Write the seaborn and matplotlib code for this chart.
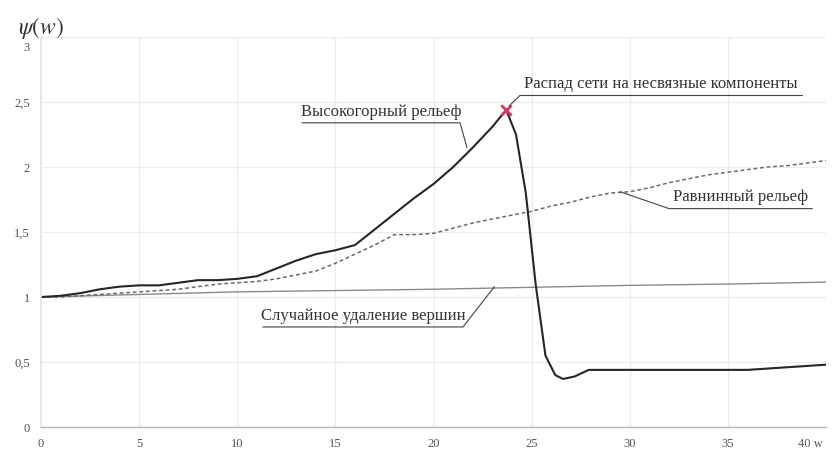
import matplotlib
matplotlib.use("Agg")
import matplotlib.pyplot as plt
import matplotlib.transforms as mtransforms
import numpy as np
import pandas as pd
import seaborn as sns

# --- data -------------------------------------------------------------
# high-mountain relief (solid)
w_high = [0, 1, 2, 3, 4, 5, 6, 7, 8, 9, 10, 11, 12, 13, 14, 15, 16, 17, 18,
          19, 20, 21, 22, 23, 23.7, 24.2, 24.7, 25.2, 25.7, 26.2, 26.6, 27.2,
          27.9, 29, 30, 31, 32, 33, 34, 35, 36, 37, 38, 39, 40]
psi_high = [1.00, 1.01, 1.03, 1.06, 1.08, 1.09, 1.09, 1.11, 1.13, 1.13, 1.14,
            1.16, 1.22, 1.28, 1.33, 1.36, 1.40, 1.52, 1.64, 1.76, 1.87, 2.00,
            2.15, 2.31, 2.44, 2.25, 1.80, 1.10, 0.55, 0.40, 0.37, 0.39, 0.44,
            0.44, 0.44, 0.44, 0.44, 0.44, 0.44, 0.44, 0.44, 0.45, 0.46, 0.47,
            0.48]

# plain relief (dashed)
w_plain = list(range(0, 41))
psi_plain = [1.00, 1.00, 1.01, 1.02, 1.03, 1.04, 1.05, 1.06, 1.08, 1.10, 1.11,
             1.12, 1.14, 1.17, 1.20, 1.26, 1.33, 1.40, 1.48, 1.48, 1.49, 1.53,
             1.57, 1.60, 1.63, 1.66, 1.70, 1.73, 1.77, 1.80, 1.81, 1.84, 1.88,
             1.91, 1.94, 1.96, 1.98, 2.00, 2.01, 2.03, 2.05]

# random vertex removal (thin)
w_rand = [0, 5, 10, 15, 20, 25, 30, 35, 40]
psi_rand = [1.00, 1.02, 1.04, 1.05, 1.06, 1.075, 1.09, 1.10, 1.115]

x_ticks = [0, 5, 10, 15, 20, 25, 30, 35, 40]
x_tick_labels = ["0", "5", "10", "15", "20", "25", "30", "35", "40 w"]
y_ticks = [0, 0.5, 1, 1.5, 2, 2.5, 3]
y_tick_labels = ["0", "0,5", "1", "1,5", "2", "2,5", "3"]

label_high = "Высокогорный рельеф"
label_plain = "Равнинный рельеф"
label_rand = "Случайное удаление вершин"
label_break = "Распад сети на несвязные компоненты"

# --- figure -----------------------------------------------------------
sns.set_theme(style="whitegrid")
plt.rcParams["font.family"] = ["Liberation Serif", "DejaVu Serif"]
plt.rcParams["mathtext.fontset"] = "stix"

fig = plt.figure(figsize=(8.37, 4.51), dpi=100)
ax = fig.add_axes([0.049, 0.053, 0.938, 0.865])

df_high = pd.DataFrame({"w": w_high, "psi": psi_high})
df_plain = pd.DataFrame({"w": w_plain, "psi": psi_plain})
df_rand = pd.DataFrame({"w": w_rand, "psi": psi_rand})

sns.lineplot(data=df_rand, x="w", y="psi", ax=ax, color="#8a8a8a",
             linewidth=1.0, estimator=None, sort=False)
sns.lineplot(data=df_plain, x="w", y="psi", ax=ax, color="#6a6a6a",
             linewidth=1.1, estimator=None, sort=False)
ax.lines[-1].set_dashes((2.5, 1.8))
sns.lineplot(data=df_high, x="w", y="psi", ax=ax, color="#262626",
             linewidth=1.5, estimator=None, sort=False)

# network break point: the peak of the high-mountain curve
i_peak = int(np.argmax(psi_high))
ax.scatter([w_high[i_peak]], [psi_high[i_peak]], marker="x", s=55,
           color="#d23a64", linewidths=2.0, zorder=5)

ax.set_xlim(0, 40)
ax.set_ylim(0, 3)
ax.set_xticks(x_ticks)
ax.set_xticklabels(x_tick_labels)
ax.set_yticks(y_ticks)
ax.set_yticklabels(y_tick_labels)
ax.set_xlabel("")
ax.set_ylabel("")

ax.tick_params(axis="both", labelsize=9, colors="#555555", length=0, pad=8)

# last x label sits a little to the left so it stays in the figure,
# top y label sits a little lower, under the axis title
lab = ax.get_xticklabels()[-1]
lab.set_transform(lab.get_transform() +
                  mtransforms.ScaledTranslation(-0.16, 0, fig.dpi_scale_trans))
lab = ax.get_yticklabels()[-1]
lab.set_transform(lab.get_transform() +
                  mtransforms.ScaledTranslation(0, -0.10, fig.dpi_scale_trans))

ax.grid(True, color="#ececec", linewidth=0.9)
for s in ["top", "right"]:
    ax.spines[s].set_visible(False)
ax.spines["left"].set_color("#e6e6e6")
ax.spines["bottom"].set_color("#b8b8b8")
ax.spines["bottom"].set_linewidth(1.0)

fig.text(0.021, 0.925, r"$\psi(w)$", fontsize=17, color="#333333")

# --- callouts ---------------------------------------------------------
def callout(text, anchor, elbow, end, text_x):
    """Leader from the curve to an underlined label."""
    ax.plot([anchor[0], elbow[0], end[0]], [anchor[1], elbow[1], end[1]],
            color="#444444", linewidth=0.8, zorder=4)
    ax.text(text_x, elbow[1] + 0.025, text, ha="center", va="bottom",
            fontsize=12, color="#333333", zorder=4)


callout(label_high, (21.7, 2.15), (21.35, 2.34), (13.3, 2.34), 17.35)
callout(label_break, (w_high[i_peak] + 0.15, psi_high[i_peak] + 0.03),
        (24.4, 2.55), (38.8, 2.55), 31.6)
callout(label_plain, (29.5, 1.81), (32.0, 1.68), (39.3, 1.68), 35.65)
callout(label_rand, (23.1, 1.08), (21.5, 0.77), (11.3, 0.77), 16.4)

fig.savefig("out.png", dpi=100, facecolor="white")
